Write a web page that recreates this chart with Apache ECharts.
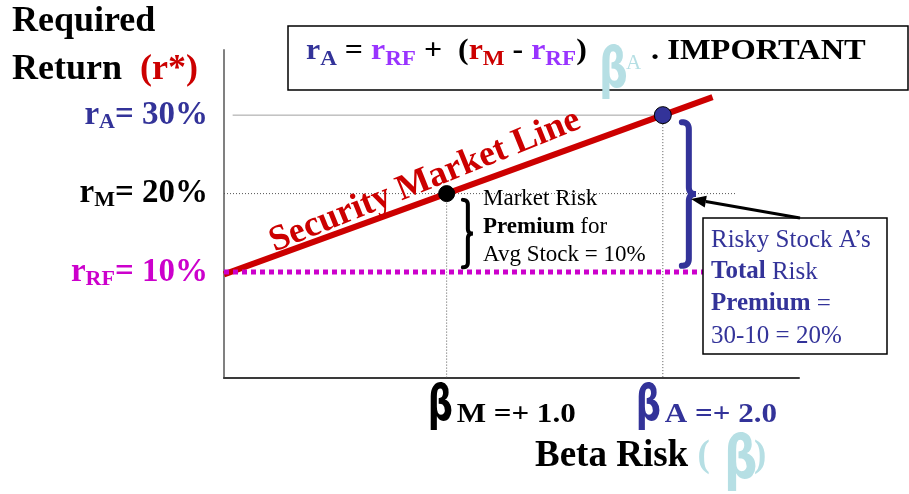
<!DOCTYPE html>
<html><head><meta charset="utf-8">
<script src="https://cdn.jsdelivr.net/npm/echarts@6/dist/echarts.min.js"></script>
<style>html,body{margin:0;padding:0;background:#fff}#c{width:909px;height:494px}</style>
</head><body><div id="c"></div>
<script>
// ---- data ----
const betaTicks = [1.0, 2.0];
const betaTickNames = ['M', 'A'];
const betaTickTexts = ['=+ 1.0', '=+ 2.0'];
const returnTicks = [10, 20, 30];
const returnTickSubs = ['RF', 'M', 'A'];
const riskFreeRate = 10;
const marketPoint = [1.0, 20];
const stockAPoint = [2.0, 30];
const smlBeta = [-0.03, 2.23];
const smlReturn = [9.7, 32.3];
const rfLineBeta = [-0.03, 2.26];
const rMLineBeta = [-0.03, 2.34];
const rALineBeta = [0.01, 2.0];
const betaRange = [-0.03, 2.63];
const returnRange = [-3.5, 38.3];

const SERIF = '"Liberation Serif", "Times New Roman", serif';
const BETAF = '"DejaVu Sans", sans-serif';
const BLUE = '#333399', RED = '#cc0000', MAG = '#cc00cc', VIOLET = '#9933ff', CYAN = '#b6dfe4';
const tickColors = [MAG, '#000000', BLUE];

const chart = echarts.init(document.getElementById('c'));

const yRich = {};
returnTicks.forEach((v, i) => {
  yRich['m' + i] = {fontSize: 33, fontWeight: 'bold', fontFamily: SERIF, color: tickColors[i], lineHeight: 36};
  yRich['s' + i] = {fontSize: 22, fontWeight: 'bold', fontFamily: SERIF, color: tickColors[i], lineHeight: 10, verticalAlign: 'bottom'};
});

const seg = (xs, ys) => xs.map((x, i) => [x, ys[i]]);

chart.setOption({
  animation: false,
  grid: {left: 224, top: 50, width: 575, height: 328, containLabel: false, outerBoundsMode: 'none'},
  xAxis: {type: 'value', min: betaRange[0], max: betaRange[1],
    axisLine: {show: true, onZero: false, lineStyle: {color: '#3a3a3a', width: 2}},
    axisTick: {show: false}, axisLabel: {show: false}, splitLine: {show: false}},
  yAxis: {type: 'value', min: returnRange[0], max: returnRange[1],
    axisLine: {show: true, onZero: false, lineStyle: {color: '#808080', width: 2}},
    axisTick: {show: false}, splitLine: {show: false},
    axisLabel: {customValues: returnTicks, margin: 16, rich: yRich,
      formatter: (v) => { const i = returnTicks.indexOf(v); return `{m${i}|r}{s${i}|${returnTickSubs[i]}}{m${i}|= ${v}%}`; }}},
  series: [
    {type: 'line', data: seg(rALineBeta, [stockAPoint[1], stockAPoint[1]]), symbol: 'none', silent: true, z: 1,
      lineStyle: {color: '#a0a0a0', width: 1}},
    {type: 'line', data: seg(rMLineBeta, [marketPoint[1], marketPoint[1]]), symbol: 'none', silent: true, z: 1,
      lineStyle: {color: '#555', width: 1, type: [1, 2]}},
    {type: 'line', data: [[marketPoint[0], marketPoint[1]], [marketPoint[0], returnRange[0]]], symbol: 'none', silent: true, z: 1,
      lineStyle: {color: '#555', width: 1, type: [1, 2]}},
    {type: 'line', data: [[stockAPoint[0], stockAPoint[1]], [stockAPoint[0], returnRange[0]]], symbol: 'none', silent: true, z: 1,
      lineStyle: {color: '#555', width: 1, type: [1, 2]}},
    {type: 'line', data: seg(smlBeta, smlReturn), symbol: 'none', silent: true, z: 3,
      lineStyle: {color: RED, width: 6}},
    {type: 'line', data: seg(rfLineBeta, [riskFreeRate, riskFreeRate]), symbol: 'none', silent: true, z: 4,
      lineStyle: {color: MAG, width: 5, type: [5, 4], cap: 'butt'}},
    {type: 'scatter', data: [marketPoint], symbol: 'circle', symbolSize: 16, silent: true, z: 5,
      itemStyle: {color: '#000', borderColor: '#000', borderWidth: 1, opacity: 1}},
    {type: 'scatter', data: [stockAPoint], symbol: 'circle', symbolSize: 17, silent: true, z: 5,
      itemStyle: {color: BLUE, borderColor: '#000', borderWidth: 1, opacity: 1}}
  ]
});

const P = (b, r) => chart.convertToPixel({gridIndex: 0}, [b, r]);

function bracePoints(x0, yTop, yBot, h) {
  const pts = [];
  const yMid = (yTop + yBot) / 2;
  const quad = (p0, c, p1) => { for (let t = 0; t <= 1.0001; t += 0.1) {
    const a = (1 - t) * (1 - t), b = 2 * (1 - t) * t, d = t * t;
    pts.push([a * p0[0] + b * c[0] + d * p1[0], a * p0[1] + b * c[1] + d * p1[1]]); } };
  quad([x0, yTop], [x0 + h, yTop], [x0 + h, yTop + h]);
  quad([x0 + h, yMid - h], [x0 + h, yMid], [x0 + 2 * h, yMid]);
  quad([x0 + 2 * h, yMid], [x0 + h, yMid], [x0 + h, yMid + h]);
  quad([x0 + h, yBot - h], [x0 + h, yBot], [x0, yBot]);
  return pts;
}

function txt(x, y, text, opt) {
  return Object.assign({type: 'text', x: x, y: y, z: 100, silent: true,
    style: Object.assign({text: text, fill: '#000', fontFamily: SERIF, fontWeight: 'bold', fontSize: 32,
      align: 'left', verticalAlign: 'middle', textAlign: 'left', textVerticalAlign: 'middle'}, opt.style || {})},
    opt.el || {});
}
const rs = (size, weight, col, extra) => Object.assign({fontSize: size, fontWeight: weight, fontFamily: SERIF, fill: col, color: col}, extra || {});

const g = [];
// y axis title
g.push(txt(12, 22, 'Required', {style: {fontSize: 36}}));
g.push(txt(12, 70, '{a|Return  }{b|(r*)}', {style: {rich: {a: rs(36, 'bold', '#000'), b: rs(36, 'bold', RED)}}}));

// formula box
g.push({type: 'rect', z: 90, silent: true, shape: {x: 288, y: 26, width: 620, height: 64},
  style: {fill: '#fff', stroke: '#000', lineWidth: 1.5}});
const fm = (c) => rs(29, 'bold', c, {lineHeight: 36});
const fs = (c) => rs(21, 'bold', c, {lineHeight: 12, verticalAlign: 'bottom'});
g.push(txt(306, 52, '{ra|r}{sa|A}{k| = }{rf|r}{sf|RF}{k| +  (}{rm|r}{sm|M}{k| - }{rf|r}{sf|RF}{k|)}', {
  style: {rich: {ra: fm(BLUE), sa: fs(BLUE), k: fm('#000'), rf: fm(VIOLET), sf: fs(VIOLET), rm: fm(RED), sm: fs(RED)}},
  el: {scaleX: 1.1}}));
g.push(txt(599, 72, 'β', {style: {fontFamily: BETAF, fontSize: 56, fill: CYAN}, el: {scaleX: 0.72}}));
g.push(txt(626, 63, 'A', {style: {fontSize: 21, fontWeight: 'normal', fill: CYAN}}));
g.push(txt(651, 52, '. IMPORTANT', {style: {fontSize: 29}, el: {scaleX: 1.12}}));

// SML label
const a0 = P(smlBeta[0], smlReturn[0]), a1 = P(smlBeta[1], smlReturn[1]);
const ang = Math.atan2(a0[1] - a1[1], a1[0] - a0[0]);
g.push({type: 'text', x: 425, y: 181, rotation: ang + 0.035, z: 60, silent: true,
  style: {text: 'Security Market Line', fill: RED, fontFamily: SERIF, fontWeight: 'bold', fontSize: 36,
    align: 'center', verticalAlign: 'middle', textAlign: 'center', textVerticalAlign: 'middle'}});

// braces
const bb = P(1.075, 19.2), bb2 = P(1.075, 10.6);
g.push({type: 'polyline', z: 60, silent: true, shape: {points: bracePoints(bb[0], bb[1], bb2[1], 5)},
  style: {stroke: '#000', lineWidth: 4, fill: null, lineCap: 'round'}});
const ab = P(2.088, 29.1), ab2 = P(2.088, 10.8);
g.push({type: 'polyline', z: 60, silent: true, shape: {points: bracePoints(ab[0], ab[1], ab2[1], 7)},
  style: {stroke: BLUE, lineWidth: 6, fill: null, lineCap: 'round'}});

// market premium text
g.push(txt(483, 185, '{n|Market Risk}\n{b|Premium}{n| for}\n{n|Avg Stock = 10%}', {
  style: {verticalAlign: 'top', textVerticalAlign: 'top', rich: {
    n: rs(23, 'normal', '#000', {lineHeight: 28}), b: rs(23, 'bold', '#000', {lineHeight: 28})}}}));

// stock A box
g.push({type: 'rect', z: 90, silent: true, shape: {x: 703, y: 218, width: 184, height: 136},
  style: {fill: '#fff', stroke: '#000', lineWidth: 1.5}});
g.push(txt(711, 224, '{n|Risky Stock A’s}\n{b|Total}{n| Risk}\n{b|Premium}{n| =}\n{n|30-10 = 20%}', {
  style: {fill: BLUE, verticalAlign: 'top', textVerticalAlign: 'top', rich: {
    n: rs(25, 'normal', BLUE, {lineHeight: 32}), b: rs(25, 'bold', BLUE, {lineHeight: 32})}}}));

// arrow
const t0 = [800, 218], t1 = [691, 199];
const aa = Math.atan2(t1[1] - t0[1], t1[0] - t0[0]);
const hl = 15, hw = 6;
const base = [t1[0] - hl * Math.cos(aa), t1[1] - hl * Math.sin(aa)];
g.push({type: 'line', z: 95, silent: true, shape: {x1: t0[0], y1: t0[1], x2: base[0], y2: base[1]},
  style: {stroke: '#000', lineWidth: 3}});
g.push({type: 'polygon', z: 95, silent: true, shape: {points: [t1,
  [base[0] + hw * Math.sin(aa), base[1] - hw * Math.cos(aa)],
  [base[0] - hw * Math.sin(aa), base[1] + hw * Math.cos(aa)]]}, style: {fill: '#000'}});

// x tick labels
betaTicks.forEach((b, i) => {
  const px = P(b, 0)[0];
  const col = i === 0 ? '#000' : BLUE;
  const off = i === 0 ? -19 : -27;
  g.push(txt(px + off, 407, 'β', {style: {fontFamily: BETAF, fontSize: 49, fill: col}, el: {scaleX: 0.72}}));
  g.push(txt(px + off + 29, 415, betaTickNames[i] + ' ' + betaTickTexts[i], {style: {fontSize: 27, fill: col}, el: {scaleX: 1.15}}));
});

// x axis title
g.push(txt(535, 456, '{a|Beta Risk }{c|( }', {style: {rich: {a: rs(37, 'bold', '#000'), c: rs(37, 'bold', CYAN)}}}));
g.push(txt(724, 462, 'β', {style: {fontFamily: BETAF, fontSize: 60, fill: CYAN}, el: {scaleX: 0.78}}));
g.push(txt(754, 456, ')', {style: {fontSize: 37, fill: CYAN}}));

chart.setOption({graphic: {elements: g}});
</script></body></html>
